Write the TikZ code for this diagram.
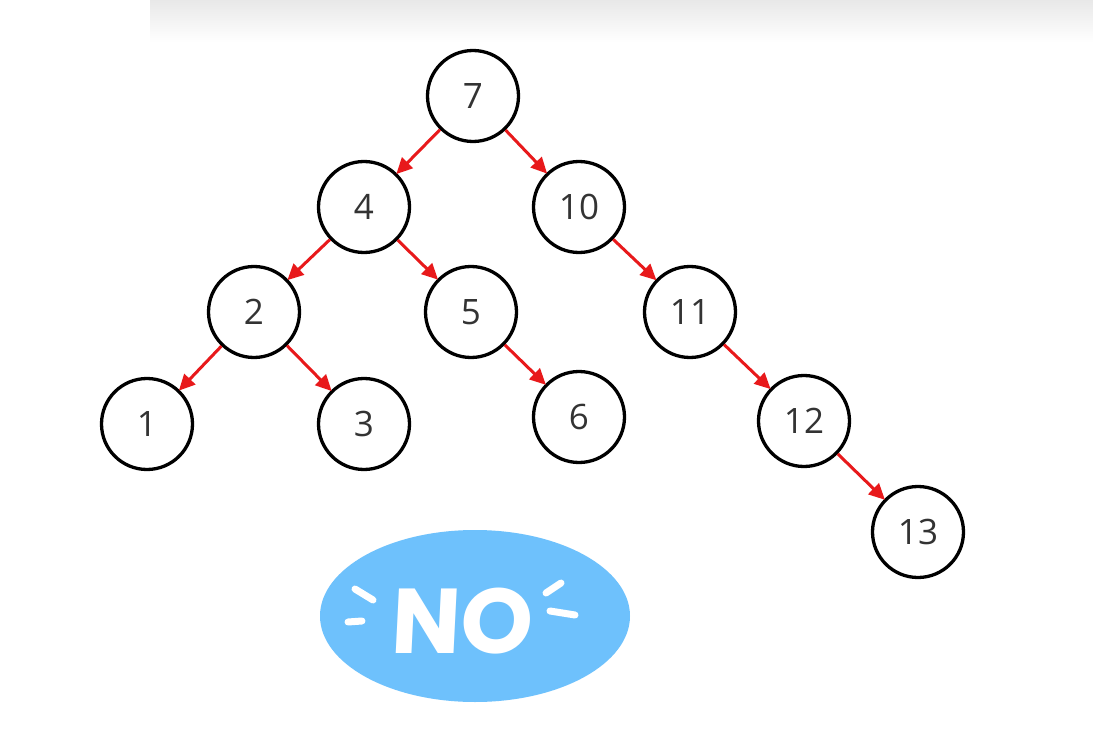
\documentclass[tikz,border=0pt]{standalone}
\usepackage{fontspec}
\setmainfont{Open Sans}
\newfontfamily\nofont{Poppins Bold}
\usetikzlibrary{arrows.meta,shapes.geometric}
\definecolor{txt}{HTML}{333333}
\definecolor{edgered}{HTML}{E8191B}
\definecolor{noblue}{HTML}{6EC1FC}
\begin{document}
\begin{tikzpicture}[x=1pt,y=-1pt,
  tnode/.style={circle,draw=black,line width=3.3pt,minimum size=91pt,inner sep=0pt,
    text=txt,font=\fontsize{35}{40}\selectfont},
  edge/.style={draw=edgered,line width=3pt,-{Triangle[length=16pt,width=15pt]},shorten >=-1pt},
  nostroke/.style={draw=white,line width=7pt,line cap=round}]
\useasboundingbox (0,0) rectangle (1093,733);
\fill[white] (0,0) rectangle (1093,733);
\shade[top color=black!9,bottom color=white] (150,0) rectangle (1093,42);
\node[tnode] (n7) at (473,96) {7};
\node[tnode] (n4) at (364,207) {4};
\node[tnode] (n10) at (579,207) {10};
\node[tnode] (n2) at (254,312) {2};
\node[tnode] (n5) at (471,312) {5};
\node[tnode] (n11) at (690,312) {11};
\node[tnode] (n1) at (147,424) {1};
\node[tnode] (n3) at (364,424) {3};
\node[tnode] (n6) at (579,417) {6};
\node[tnode] (n12) at (804,421) {12};
\node[tnode] (n13) at (918,532) {13};
\draw[edge] (n7) -- (n4);
\draw[edge] (n7) -- (n10);
\draw[edge] (n4) -- (n2);
\draw[edge] (n4) -- (n5);
\draw[edge] (n2) -- (n1);
\draw[edge] (n2) -- (n3);
\draw[edge] (n5) -- (n6);
\draw[edge] (n10) -- (n11);
\draw[edge] (n11) -- (n12);
\draw[edge] (n12) -- (n13);
\node[ellipse,fill=noblue,minimum width=310pt,minimum height=172pt,inner sep=0pt] (no) at (475,616) {};
\node[text=white,font=\nofont\fontsize{92}{100}\selectfont,xslant=0.05] (notext) at (463,621) {NO};
\coordinate (l1a) at (355,589); \coordinate (l1b) at (373,600);
\coordinate (l2a) at (348,622); \coordinate (l2b) at (362,621);
\coordinate (r1a) at (546,593); \coordinate (r1b) at (561,583);
\coordinate (r2a) at (550,611); \coordinate (r2b) at (575,615);
\draw[nostroke] (l1a) -- (l1b);
\draw[nostroke] (l2a) -- (l2b);
\draw[nostroke] (r1a) -- (r1b);
\draw[nostroke] (r2a) -- (r2b);
\end{tikzpicture}
\end{document}
